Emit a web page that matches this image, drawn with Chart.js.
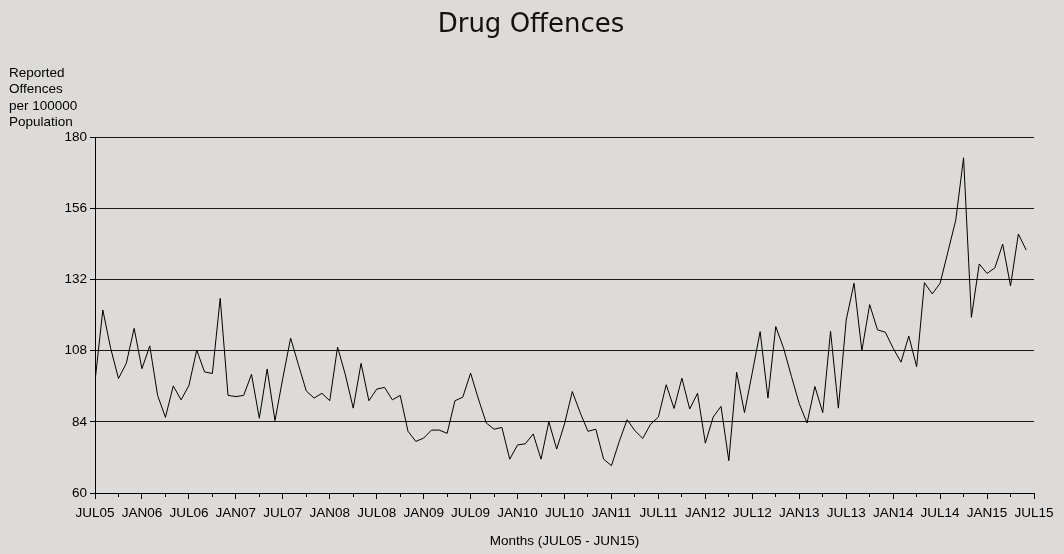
<!DOCTYPE html>
<html>
<head>
<meta charset="utf-8">
<script src="https://cdn.jsdelivr.net/npm/chart.js@4/dist/chart.umd.min.js"></script>
<style>
  html, body { margin: 0; padding: 0; background: #dcdbd9; }
  #wrap { width: 1064px; height: 554px; position: relative; }
</style>
</head>
<body>
<div id="wrap"><canvas id="c" width="1064" height="554"></canvas></div>
<script>
// Monthly values, JUL05 .. JUN15 (reported offences per 100000 population)
const values = [
  97.6, 121.7, 108.8, 98.6, 103.7, 115.5, 101.9, 109.6, 92.9, 85.5, 96.1, 91.4,
  96.2, 108.2, 100.8, 100.3, 125.6, 92.9, 92.5, 92.9, 100.0, 85.2, 101.8, 84.4,
  98.7, 112.2, 103.2, 94.4, 92.0, 93.6, 91.1, 109.2, 99.8, 88.6, 103.7, 91.1,
  95.0, 95.6, 91.4, 92.9, 80.8, 77.4, 78.5, 81.2, 81.2, 80.1, 91.1, 92.3,
  100.4, 91.7, 83.6, 81.5, 82.1, 71.4, 76.2, 76.6, 79.9, 71.4, 84.0, 74.8,
  83.3, 94.2, 87.1, 80.8, 81.5, 71.4, 69.2, 77.4, 84.7, 81.0, 78.4, 83.2,
  85.6, 96.5, 88.5, 98.7, 88.3, 93.6, 76.8, 85.6, 89.2, 70.9, 100.7, 87.1,
  100.6, 114.4, 92.0, 116.1, 108.8, 99.3, 90.1, 83.6, 95.9, 87.1, 114.5, 88.6,
  118.3, 130.7, 108.0, 123.5, 115.0, 114.2, 108.8, 104.1, 112.9, 102.6, 130.9, 127.1,
  130.7, 141.3, 152.0, 173.0, 119.2, 137.2, 134.0, 135.9, 143.9, 129.8, 147.3, 141.9
];
// Tick labels every 6 months along the x axis
const xTickLabels = ['JUL05','JAN06','JUL06','JAN07','JUL07','JAN08','JUL08','JAN09','JUL09','JAN10','JUL10',
                     'JAN11','JUL11','JAN12','JUL12','JAN13','JUL13','JAN14','JUL14','JAN15','JUL15'];
const yTicks = [60, 84, 108, 132, 156, 180];
const titleText = 'Drug Offences';
const yTitleLines = ['Reported', 'Offences', 'per 100000', 'Population'];
const xTitleText = 'Months (JUL05 - JUN15)';

const BG = '#dcdbd9';
const FONT = '"Liberation Sans", Arial, sans-serif';

const textPlugin = {
  id: 'texts',
  beforeDraw(chart) {
    const ctx = chart.ctx;
    ctx.save();
    ctx.fillStyle = BG;
    ctx.fillRect(0, 0, chart.width, chart.height);
    ctx.restore();
  },
  afterDraw(chart) {
    const ctx = chart.ctx;
    ctx.save();
    ctx.fillStyle = '#111';
    ctx.font = '26px "DejaVu Sans", sans-serif';
    ctx.textAlign = 'center';
    ctx.textBaseline = 'alphabetic';
    ctx.fillText(titleText, 531, 32);
    ctx.font = '13.5px ' + FONT;
    ctx.textAlign = 'left';
    ctx.fillStyle = '#000';
    yTitleLines.forEach((t, i) => ctx.fillText(t, 9, 76.5 + i * 16.6));
    ctx.restore();
  }
};

new Chart(document.getElementById('c'), {
  type: 'line',
  data: {
    datasets: [{
      data: values.map((v, i) => ({ x: i, y: v })),
      borderColor: '#000',
      borderWidth: 1,
      pointRadius: 0,
      tension: 0,
      fill: false
    }]
  },
  options: {
    responsive: false,
    animation: false,
    events: [],
    layout: { padding: { left: 0, right: 30, top: 137, bottom: 0 } },
    plugins: { legend: { display: false }, tooltip: { enabled: false }, title: { display: false } },
    scales: {
      x: {
        type: 'linear',
        min: 0,
        max: 120,
        afterFit(scale) { scale.height = 61; },
        afterBuildTicks(scale) {
          const t = [];
          for (let v = 0; v <= 120; v += 3) t.push({ value: v });
          scale.ticks = t;
        },
        ticks: {
          autoSkip: false,
          maxRotation: 0,
          padding: 6,
          color: '#000',
          font: { family: FONT, size: 13.5 },
          callback(v) { return v % 6 === 0 ? xTickLabels[v / 6] : ''; }
        },
        grid: {
          drawOnChartArea: false, drawTicks: true, tickLength: 6, tickColor: '#000', color: '#000',
          tickBorderDash(ctx) { return (ctx.tick && ctx.tick.value % 6 !== 0) ? [3, 20] : []; }
        },
        border: { color: '#000', width: 1 },
        title: {
          display: true,
          text: xTitleText,
          color: '#000',
          font: { family: FONT, size: 13.5 },
          padding: { top: 0, bottom: 5 }
        }
      },
      y: {
        min: 60,
        max: 180,
        afterFit(scale) { scale.width = 95; },
        afterBuildTicks(scale) { scale.ticks = yTicks.map(v => ({ value: v })); },
        ticks: { color: '#000', padding: 3, font: { family: FONT, size: 13.5 } },
        grid: { color: '#1a1a1a', lineWidth: 1, tickLength: 5, tickColor: '#000' },
        border: { color: '#000', width: 1 }
      }
    }
  },
  plugins: [textPlugin]
});
</script>
</body>
</html>
